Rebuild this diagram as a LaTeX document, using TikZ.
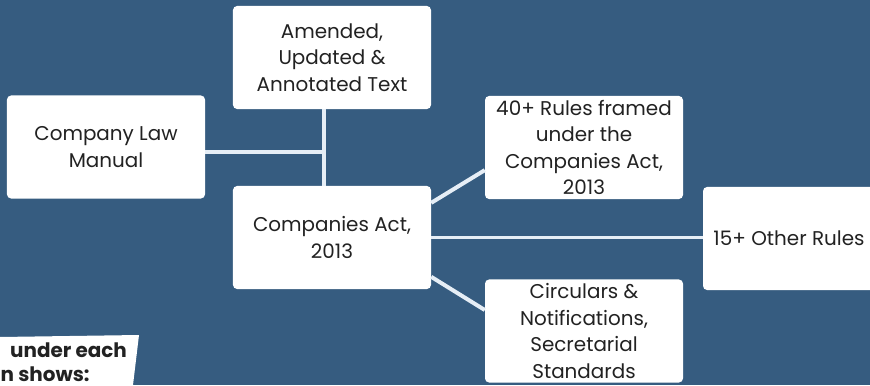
\documentclass[tikz,border=0pt]{standalone}
\usepackage{fontspec}
\setmainfont{Poppins}
\usetikzlibrary{positioning}

\definecolor{bgblue}{RGB}{54,92,128}
\definecolor{linkcol}{RGB}{230,238,246}
\definecolor{inkcol}{RGB}{34,34,34}

\tikzset{
  box/.style={fill=white, rounded corners=3.5pt, minimum width=5.94cm,
    minimum height=3.09cm, align=center, text=inkcol,
    font=\fontsize{17}{22.5}\selectfont},
  notetext/.style={anchor=base west, text=inkcol, inner sep=0pt,
    font=\fontsize{17}{22}\selectfont\bfseries},
  link/.style={draw=linkcol, line width=3.4pt}
}

\begin{document}
\begin{tikzpicture}[x=0.03cm, y=0.03cm]
  \useasboundingbox (0,0) rectangle (870,385);
  \clip (0,0) rectangle (870,385);
  \fill[bgblue] (0,0) rectangle (870,385);

  % boxes
  \node[box] (amended) at (332,327.5) {Amended,\\Updated \&\\Annotated Text};
  \node[box] (manual) at (106,238) {Company Law\\Manual};
  \node[box] (act) at (332,147.5) {Companies Act,\\2013};
  \node[box] (rules) at (584,237.5) {40+ Rules framed\\under the\\Companies Act,\\2013};
  \node[box, minimum width=5.16cm] (other) at (789,146.5) {15+ Other Rules};
  \node[box] (circulars) at (584,54) {Circulars \&\\Notifications,\\Secretarial\\Standards};

  % connectors
  \coordinate (jn) at (324,233);
  \draw[link] (amended.south -| jn) -- (act.north -| jn);
  \draw[link] (jn -| manual.east) -- (jn);
  \draw[link] ([yshift=1.04cm]act.east) -- ([yshift=-0.68cm]rules.west);
  \draw[link] (act.east) -- (act.east -| other.west);
  \draw[link] ([yshift=-1.18cm]act.east) -- ([yshift=0.63cm]circulars.west);

  % cut-off note in the corner
  \fill[white] (0,48) -- (139,50) -- (133,0) -- (0,0) -- cycle;
  \node[notetext] (notea) at (10,28) {under each};
  \node[notetext] (noteb) at (0.5,4) {n shows:};
\end{tikzpicture}
\end{document}
